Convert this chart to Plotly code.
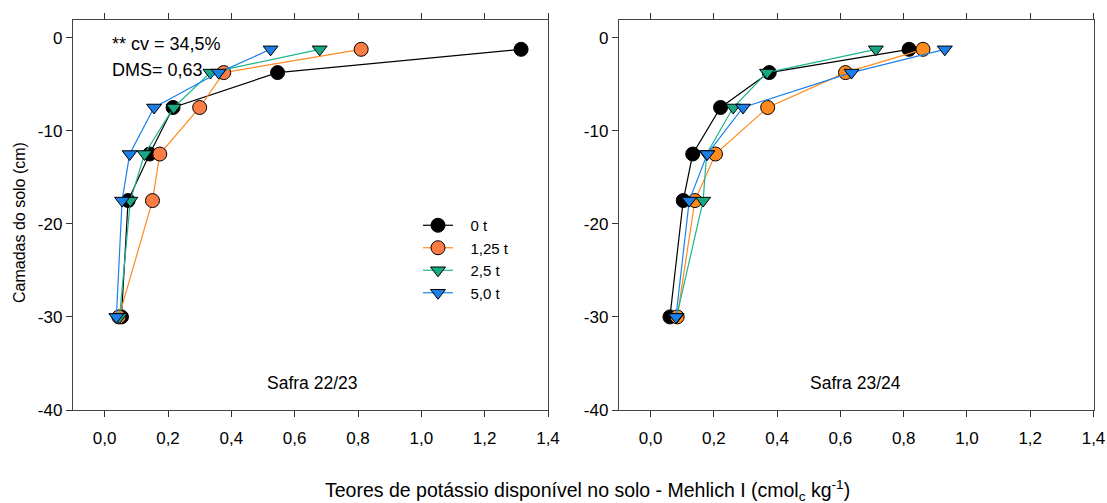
import plotly.graph_objects as go

depth = [-1.25, -3.75, -7.5, -12.5, -17.5, -30]
series_names = ["0 t", "1,25 t", "2,5 t", "5,0 t"]

# Safra 22/23
s1_0t = [1.315, 0.546, 0.216, 0.142, 0.074, 0.053]
s1_125t = [0.81, 0.376, 0.30, 0.174, 0.151, 0.045]
s1_25t = [0.679, 0.334, 0.218, 0.126, 0.081, 0.047]
s1_50t = [0.524, 0.36, 0.156, 0.079, 0.055, 0.037]

# Safra 23/24
s2_0t = [0.817, 0.375, 0.221, 0.133, 0.103, 0.061]
s2_125t = [0.861, 0.616, 0.37, 0.205, 0.14, 0.084]
s2_25t = [0.712, 0.368, 0.261, 0.177, 0.166, 0.082]
s2_50t = [0.93, 0.635, 0.292, 0.179, 0.122, 0.08]

x_ticks = [0.0, 0.2, 0.4, 0.6, 0.8, 1.0, 1.2, 1.4]
x_ticktext = ["0,0", "0,2", "0,4", "0,6", "0,8", "1,0", "1,2", "1,4"]
y_ticks = [0, -10, -20, -30, -40]
y_ticktext = ["0", "-10", "-20", "-30", "-40"]

line_colors = ["#000000", "#FF8A1E", "#1DB58F", "#1C82EC"]
fill_colors_1 = ["#000000", "#FA7D45", "#17A886", "#1C7FE6"]
fill_colors_2 = ["#000000", "#FF8A1E", "#17A886", "#1C7FE6"]
symbols = ["circle", "circle", "triangle-down", "triangle-down"]

FONT = "Liberation Sans, Arial, sans-serif"
fig = go.Figure()

panel1 = [s1_0t, s1_125t, s1_25t, s1_50t]
panel2 = [s2_0t, s2_125t, s2_25t, s2_50t]

for i, vals in enumerate(panel1):
    fig.add_trace(go.Scatter(
        x=vals, y=depth, mode="lines+markers", name="\u00a0\u00a0\u00a0" + series_names[i],
        line=dict(color=line_colors[i], width=1.2),
        marker=dict(symbol=symbols[i], size=14 if symbols[i] == "circle" else 13,
                    color=fill_colors_1[i], line=dict(color="#000000", width=1)),
        xaxis="x", yaxis="y", showlegend=True))
for i, vals in enumerate(panel2):
    fig.add_trace(go.Scatter(
        x=vals, y=depth, mode="lines+markers", name=series_names[i],
        line=dict(color=line_colors[i], width=1.2),
        marker=dict(symbol=symbols[i], size=14 if symbols[i] == "circle" else 13,
                    color=fill_colors_2[i], line=dict(color="#000000", width=1)),
        xaxis="x2", yaxis="y2", showlegend=False))

W, H = 1107, 503
dx1 = [73 / W, 548 / W]
dx2 = [619 / W, 1093.5 / W]
dy = [1 - 410 / H, 1 - 20 / H]

axis_common = dict(
    range=[-0.1, 1.4], tickvals=x_ticks, ticktext=x_ticktext,
    ticks="outside", ticklen=6, tickcolor="#333", showline=True, linecolor="#444",
    linewidth=1.3, mirror="ticks", showgrid=False, zeroline=False,
    tickfont=dict(family=FONT, size=17, color="#000"), ticklabelstandoff=6,
    automargin=False)
yaxis_common = dict(
    range=[-40, 1.9], tickvals=y_ticks, ticktext=y_ticktext, ticks="outside", ticklen=6,
    tickcolor="#333", showline=True, linecolor="#444", linewidth=1.3, mirror=True,
    showgrid=False, zeroline=False, tickfont=dict(family=FONT, size=17, color="#000"),
    automargin=False)

fig.update_layout(
    width=W, height=H,
    margin=dict(l=0, r=0, t=0, b=0),
    paper_bgcolor="white", plot_bgcolor="white",
    xaxis=dict(domain=dx1, anchor="y", **axis_common),
    yaxis=dict(domain=dy, anchor="x", **yaxis_common),
    xaxis2=dict(domain=dx2, anchor="y2", **axis_common),
    yaxis2=dict(domain=dy, anchor="x2", **yaxis_common),
    legend=dict(x=418 / W, y=1 - 209 / H, xanchor="left", yanchor="top",
                bgcolor="rgba(0,0,0,0)", font=dict(family=FONT, size=15, color="#000"),
                itemwidth=30, tracegroupgap=0),
    showlegend=True,
    annotations=[
        dict(text="** cv = 34,5%", x=110 / W, y=1 - 44 / H, xref="paper", yref="paper",
             xanchor="left", yanchor="middle", showarrow=False,
             font=dict(family=FONT, size=18, color="#000")),
        dict(text="DMS= 0,63", x=110 / W, y=1 - 70 / H, xref="paper", yref="paper",
             xanchor="left", yanchor="middle", showarrow=False,
             font=dict(family=FONT, size=18, color="#000")),
        dict(text="Safra 22/23", x=312 / W, y=1 - 383 / H, xref="paper", yref="paper",
             xanchor="center", yanchor="middle", showarrow=False,
             font=dict(family=FONT, size=17.5, color="#000")),
        dict(text="Safra 23/24", x=855 / W, y=1 - 383 / H, xref="paper", yref="paper",
             xanchor="center", yanchor="middle", showarrow=False,
             font=dict(family=FONT, size=17.5, color="#000")),
        dict(text="Camadas do solo (cm)", x=19 / W, y=1 - 223 / H, xref="paper", yref="paper",
             xanchor="center", yanchor="middle", showarrow=False, textangle=-90,
             font=dict(family=FONT, size=16, color="#000")),
        dict(text="Teores de potássio disponível no solo - Mehlich I (cmol<sub>c</sub> kg<sup>-1</sup>)",
             x=587 / W, y=1 - 490 / H, xref="paper", yref="paper",
             xanchor="center", yanchor="middle", showarrow=False,
             font=dict(family=FONT, size=19.5, color="#000")),
    ],
)

fig.write_html("out.html")
